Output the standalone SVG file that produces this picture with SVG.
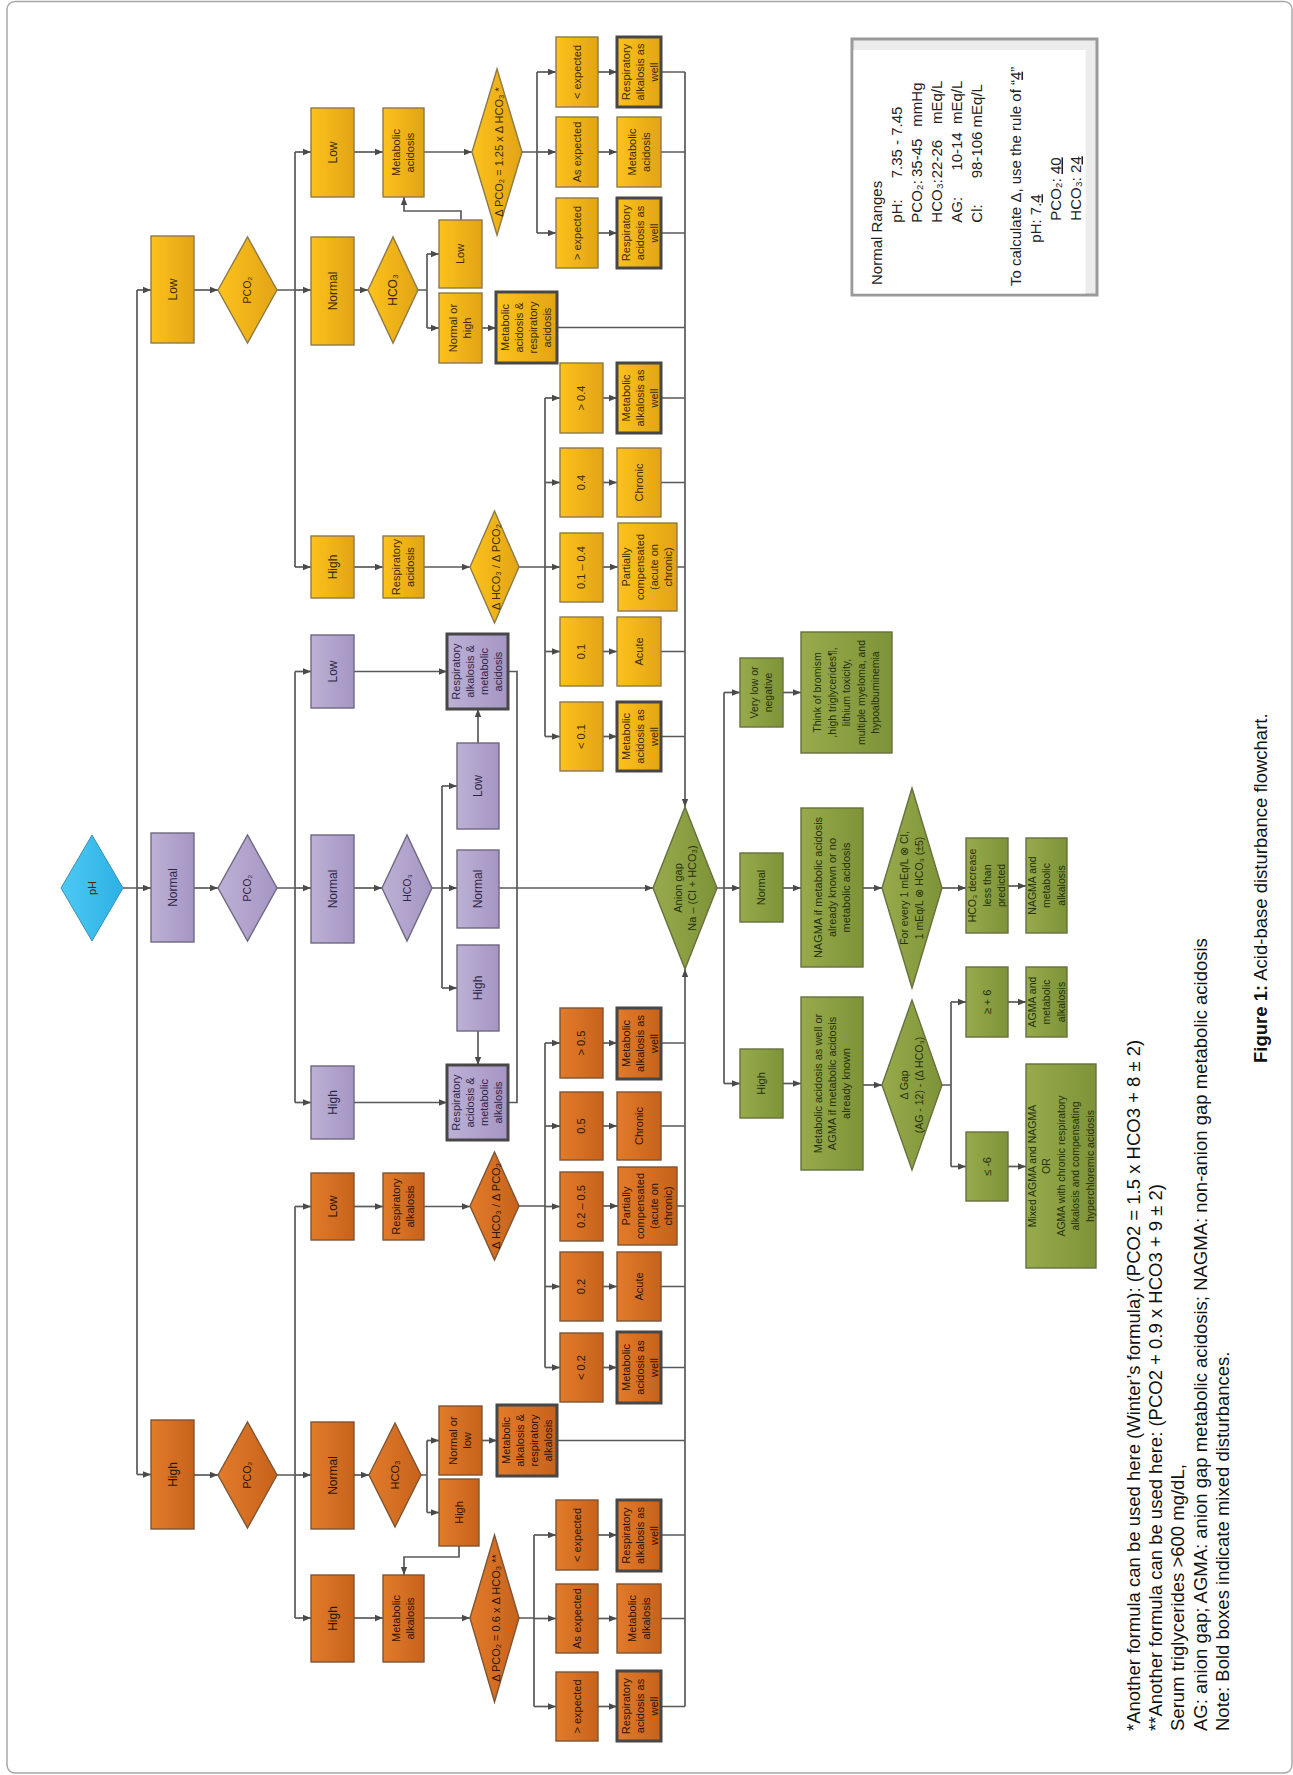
<svg xmlns="http://www.w3.org/2000/svg" width="1293" height="1775" viewBox="0 0 1293 1775">
<defs>
<linearGradient id="gy" x1="0" y1="0" x2="1" y2="0"><stop offset="0" stop-color="#fcc21c"/><stop offset="1" stop-color="#e2a416"/></linearGradient>
<linearGradient id="gp" x1="0" y1="0" x2="1" y2="0"><stop offset="0" stop-color="#bdb1d6"/><stop offset="1" stop-color="#a595c3"/></linearGradient>
<linearGradient id="go" x1="0" y1="0" x2="1" y2="0"><stop offset="0" stop-color="#e27b29"/><stop offset="1" stop-color="#c7621c"/></linearGradient>
<linearGradient id="gg" x1="0" y1="0" x2="1" y2="0"><stop offset="0" stop-color="#97ab4c"/><stop offset="1" stop-color="#7e9338"/></linearGradient>
<linearGradient id="gb" x1="0" y1="0" x2="1" y2="0"><stop offset="0" stop-color="#4ccaf3"/><stop offset="1" stop-color="#2cb1e4"/></linearGradient>
<marker id="arr" viewBox="0 0 10 10" refX="10" refY="5" markerWidth="8" markerHeight="8" markerUnits="userSpaceOnUse" orient="auto"><path d="M0,1 L10,5 L0,9 Z" fill="#4a4a4a"/></marker>
<style>
.y{fill:url(#gy);stroke:#8c7a4a;stroke-width:1.4}
.p{fill:url(#gp);stroke:#6f6880;stroke-width:1.4}
.o{fill:url(#go);stroke:#7d5535;stroke-width:1.4}
.g{fill:url(#gg);stroke:#66703f;stroke-width:1.4}
.b{fill:url(#gb);stroke:#3a8fb5;stroke-width:1}
.bold{stroke:#474747;stroke-width:3}
text{font-family:"Liberation Sans",Arial,sans-serif}
.t{font-size:11px;text-anchor:middle}
.l{font-size:12px}
.s{font-size:10.5px}
.ty{fill:#3a2b00}
.tp{fill:#2f2645}
.to{fill:#2b1505}
.tg{fill:#26300c}
#conn path{fill:none;stroke:#595959;stroke-width:1.7}
#conn .a{marker-end:url(#arr)}
.nr{font-size:15px;fill:#222}
.fn{font-size:18.5px;fill:#111}
</style>
</defs>
<rect x="7" y="1.5" width="1285" height="1771.5" rx="8" fill="#fff" stroke="#a8a8a8" stroke-width="1.5"/>

<g id="conn">
<path d="M123,888 H137 M137,290 V1474.5"/>
<path class="a" d="M137,290 H151"/><path class="a" d="M137,888 H151"/><path class="a" d="M137,1474.5 H151"/>
<path class="a" d="M194,290 H218"/><path class="a" d="M194,888 H218"/><path class="a" d="M194,1475 H218"/>
<path d="M277,290 H295 M295,152 V567"/>
<path d="M277,888 H295 M295,671.5 V1102.5"/>
<path d="M277,1475 H295 M295,1206.5 V1618"/>
<path class="a" d="M295,152 H311"/><path class="a" d="M295,290 H311"/><path class="a" d="M295,567 H311"/>
<path class="a" d="M295,671.5 H311"/><path class="a" d="M295,888 H311"/><path class="a" d="M295,1102.5 H311"/>
<path class="a" d="M295,1206.5 H311"/><path class="a" d="M295,1475 H311"/><path class="a" d="M295,1618 H311"/>
<path class="a" d="M354,152 H383"/><path class="a" d="M354,290 H368"/><path class="a" d="M354,567 H383"/>
<path class="a" d="M354,671.5 H447"/><path class="a" d="M354,888 H382"/><path class="a" d="M354,1102.5 H447"/>
<path class="a" d="M354,1206.5 H383"/><path class="a" d="M354,1475 H369"/><path class="a" d="M354,1618 H383"/>
<path d="M418,290 H427 M427,254 V328"/>
<path class="a" d="M427,254 H439"/><path class="a" d="M427,328 H439"/>
<path class="a" d="M461,220 V211 H404 V197"/>
<path class="a" d="M482,328 H496"/>
<path d="M557,327.5 H685"/>
<path class="a" d="M424,152 H472"/>
<path d="M522,152 H537 M537,72 V233"/>
<path class="a" d="M537,72 H556"/><path class="a" d="M537,152 H556"/><path class="a" d="M537,233 H556"/>
<path class="a" d="M598,72 H617"/><path class="a" d="M598,152 H617"/><path class="a" d="M598,233 H617"/>
<path d="M661,72 H685 M661,152 H685 M661,233 H685"/>
<path class="a" d="M685,72 V807"/>
<path class="a" d="M424,567 H470"/>
<path d="M519,567 H545 M545,398 V736.5"/>
<path class="a" d="M545,398 H560"/><path class="a" d="M545,482.5 H560"/><path class="a" d="M545,567 H560"/><path class="a" d="M545,651.5 H560"/><path class="a" d="M545,736.5 H560"/>
<path class="a" d="M603,398 H617"/><path class="a" d="M603,482.5 H617"/><path class="a" d="M603,567 H618"/><path class="a" d="M603,651.5 H617"/><path class="a" d="M603,736.5 H617"/>
<path d="M661,398 H685 M661,482.5 H685 M677,567 H685 M661,651.5 H685 M661,736.5 H685"/>
<path d="M432,888 H442 M442,786 V988"/>
<path class="a" d="M442,786 H457"/><path class="a" d="M442,888 H457"/><path class="a" d="M442,988 H457"/>
<path class="a" d="M478,743 V709"/>
<path class="a" d="M478,1031 V1065"/>
<path class="a" d="M499,888 H653"/>
<path d="M508,671.5 H517 V1102.5 H508"/>
<path d="M717,888 H724 M724,692.5 V1083.5"/>
<path class="a" d="M724,692.5 H740"/><path class="a" d="M724,888 H740"/><path class="a" d="M724,1083.5 H740"/>
<path class="a" d="M783,692.5 H801"/><path class="a" d="M783,888 H801"/><path class="a" d="M783,1083.5 H801"/>
<path class="a" d="M863,888 H882"/>
<path class="a" d="M942,888 H966"/>
<path class="a" d="M1008,886 H1026"/>
<path class="a" d="M863,1085 H882"/>
<path d="M942,1085 H951 M951,1002 V1166.5"/>
<path class="a" d="M951,1002 H966"/><path class="a" d="M951,1166.5 H966"/>
<path class="a" d="M1008,1002 H1026"/><path class="a" d="M1008,1166.5 H1026"/>
<path d="M421,1475 H427 M427,1440.5 V1512.5"/>
<path class="a" d="M427,1440.5 H439"/><path class="a" d="M427,1512.5 H439"/>
<path class="a" d="M459,1546 V1557 H404 V1575"/>
<path class="a" d="M482,1440.5 H497"/>
<path d="M557,1440.5 H685"/>
<path class="a" d="M424,1618 H470"/>
<path d="M519,1618 H534 M534,1535 V1706.5"/>
<path class="a" d="M534,1535 H556"/><path class="a" d="M534,1618.5 H556"/><path class="a" d="M534,1706.5 H556"/>
<path class="a" d="M598,1535 H617"/><path class="a" d="M598,1618.5 H617"/><path class="a" d="M598,1706.5 H617"/>
<path d="M661,1535 H685 M661,1618.5 H685 M661,1706.5 H685"/>
<path class="a" d="M685,1706.5 V969"/>
<path class="a" d="M424,1206.5 H470"/>
<path d="M519,1206 H545 M545,1043 V1367.5"/>
<path class="a" d="M545,1043 H560"/><path class="a" d="M545,1126 H560"/><path class="a" d="M545,1206.5 H560"/><path class="a" d="M545,1286.5 H560"/><path class="a" d="M545,1367.5 H560"/>
<path class="a" d="M603,1043 H617"/><path class="a" d="M603,1126 H617"/><path class="a" d="M603,1206 H618"/><path class="a" d="M603,1286.5 H617"/><path class="a" d="M603,1367.5 H617"/>
<path d="M661,1043 H685 M661,1126 H685 M677,1206 H685 M661,1286.5 H685 M661,1367.5 H685"/>
</g>

<g id="ph"><path class="b" d="M61,888 L92,835 L123,888 L92,941 Z"/><text class="t ty" transform="translate(92,888) rotate(-90)"><tspan x="0" y="3.9">pH</tspan></text></g>

<!-- yellow (low pH) -->
<g id="y-low"><rect class="y" x="151" y="236" width="43" height="107"/><text class="t l ty" transform="translate(172.5,289.5) rotate(-90)"><tspan x="0" y="4.2">Low</tspan></text></g>
<g id="y-pco2"><path class="y" d="M218,290 L247.5,237 L277,290 L247.5,343 Z"/><text class="t s ty" transform="translate(247.5,290) rotate(-90)"><tspan x="0" y="3.7">PCO₂</tspan></text></g>
<g id="y-low2"><rect class="y" x="311" y="108" width="43" height="89"/><text class="t l ty" transform="translate(332.5,152.5) rotate(-90)"><tspan x="0" y="4.2">Low</tspan></text></g>
<g id="y-normal2"><rect class="y" x="311" y="237" width="43" height="108"/><text class="t l ty" transform="translate(332.5,291) rotate(-90)"><tspan x="0" y="4.2">Normal</tspan></text></g>
<g id="y-high2"><rect class="y" x="311" y="536" width="43" height="62"/><text class="t l ty" transform="translate(332.5,567) rotate(-90)"><tspan x="0" y="4.2">High</tspan></text></g>
<g id="y-metac"><rect class="y" x="383" y="108" width="41" height="89"/><text class="t ty" transform="translate(403.5,152.5) rotate(-90)"><tspan x="0" y="-3.1">Metabolic</tspan><tspan x="0" y="10.9">acidosis</tspan></text></g>
<g id="y-hco3"><path class="y" d="M368,290 L393,237 L418,290 L393,343 Z"/><text class="t l ty" transform="translate(393,290) rotate(-90)"><tspan x="0" y="4.2">HCO₃</tspan></text></g>
<g id="y-respac"><rect class="y" x="383" y="536" width="41" height="62"/><text class="t ty" transform="translate(403.5,567) rotate(-90)"><tspan x="0" y="-3.1">Respiratory</tspan><tspan x="0" y="10.9">acidosis</tspan></text></g>
<g id="y-hco3-low"><rect class="y" x="439" y="220" width="43" height="68"/><text class="t ty" transform="translate(460.5,254) rotate(-90)"><tspan x="0" y="3.9">Low</tspan></text></g>
<g id="y-hco3-nh"><rect class="y" x="439" y="293" width="43" height="70"/><text class="t ty" transform="translate(460.5,328) rotate(-90)"><tspan x="0" y="-3.1">Normal or</tspan><tspan x="0" y="10.9">high</tspan></text></g>
<g id="y-mix"><rect class="y bold" x="496" y="292" width="61" height="71"/><text class="t ty" transform="translate(526.5,327.5) rotate(-90)"><tspan x="0" y="-17.1">Metabolic</tspan><tspan x="0" y="-3.1">acidosis &amp;</tspan><tspan x="0" y="10.9">respiratory</tspan><tspan x="0" y="24.9">acidosis</tspan></text></g>
<g id="y-d1"><path class="y" d="M472,152 L497,69 L522,152 L497,235 Z"/><text class="t ty" transform="translate(499,152) rotate(-90)"><tspan x="0" y="3.9">Δ PCO₂ = 1.25 x Δ HCO₃ *</tspan></text></g>
<g id="y-lt"><rect class="y" x="556" y="37" width="42" height="70"/><text class="t ty" transform="translate(577,72) rotate(-90)"><tspan x="0" y="3.9">&lt; expected</tspan></text></g>
<g id="y-as"><rect class="y" x="556" y="117" width="42" height="70"/><text class="t ty" transform="translate(577,152) rotate(-90)"><tspan x="0" y="3.9">As expected</tspan></text></g>
<g id="y-gt"><rect class="y" x="556" y="198" width="42" height="70"/><text class="t ty" transform="translate(577,233) rotate(-90)"><tspan x="0" y="3.9">&gt; expected</tspan></text></g>
<g id="y-r1"><rect class="y bold" x="617" y="37" width="44" height="70"/><text class="t ty" transform="translate(639,72) rotate(-90)"><tspan x="0" y="-9.1">Respiratory</tspan><tspan x="0" y="4.9">alkalosis as</tspan><tspan x="0" y="18.9">well</tspan></text></g>
<g id="y-r2"><rect class="y" x="617" y="117" width="44" height="70"/><text class="t ty" transform="translate(639,152) rotate(-90)"><tspan x="0" y="-3.1">Metabolic</tspan><tspan x="0" y="10.9">acidosis</tspan></text></g>
<g id="y-r3"><rect class="y bold" x="617" y="198" width="44" height="70"/><text class="t ty" transform="translate(639,233) rotate(-90)"><tspan x="0" y="-9.1">Respiratory</tspan><tspan x="0" y="4.9">acidosis as</tspan><tspan x="0" y="18.9">well</tspan></text></g>
<g id="y-d2"><path class="y" d="M470,567 L494.5,511 L519,567 L494.5,623 Z"/><text class="t ty" transform="translate(496,567) rotate(-90)"><tspan x="0" y="3.9">Δ HCO₃ / Δ PCO₂</tspan></text></g>
<g id="y-c1"><rect class="y" x="560" y="363" width="43" height="70"/><text class="t ty" transform="translate(581.5,398) rotate(-90)"><tspan x="0" y="3.9">&gt; 0.4</tspan></text></g>
<g id="y-c2"><rect class="y" x="560" y="448" width="43" height="69"/><text class="t ty" transform="translate(581.5,482.5) rotate(-90)"><tspan x="0" y="3.9">0.4</tspan></text></g>
<g id="y-c3"><rect class="y" x="560" y="533" width="43" height="69"/><text class="t ty" transform="translate(581.5,567.5) rotate(-90)"><tspan x="0" y="3.9">0.1 – 0.4</tspan></text></g>
<g id="y-c4"><rect class="y" x="560" y="617" width="43" height="69"/><text class="t ty" transform="translate(581.5,651.5) rotate(-90)"><tspan x="0" y="3.9">0.1</tspan></text></g>
<g id="y-c5"><rect class="y" x="560" y="702" width="43" height="69"/><text class="t ty" transform="translate(581.5,736.5) rotate(-90)"><tspan x="0" y="3.9">&lt; 0.1</tspan></text></g>
<g id="y-s1"><rect class="y bold" x="617" y="363" width="44" height="70"/><text class="t ty" transform="translate(639,398) rotate(-90)"><tspan x="0" y="-9.1">Metabolic</tspan><tspan x="0" y="4.9">alkalosis as</tspan><tspan x="0" y="18.9">well</tspan></text></g>
<g id="y-s2"><rect class="y" x="617" y="448" width="44" height="69"/><text class="t ty" transform="translate(639,482.5) rotate(-90)"><tspan x="0" y="3.9">Chronic</tspan></text></g>
<g id="y-s3"><rect class="y" x="618" y="523" width="59" height="88"/><text class="t ty" transform="translate(647.5,567) rotate(-90)"><tspan x="0" y="-17.1">Partially</tspan><tspan x="0" y="-3.1">compensated</tspan><tspan x="0" y="10.9">(acute on</tspan><tspan x="0" y="24.9">chronic)</tspan></text></g>
<g id="y-s4"><rect class="y" x="617" y="617" width="44" height="69"/><text class="t ty" transform="translate(639,651.5) rotate(-90)"><tspan x="0" y="3.9">Acute</tspan></text></g>
<g id="y-s5"><rect class="y bold" x="617" y="702" width="44" height="69"/><text class="t ty" transform="translate(639,736.5) rotate(-90)"><tspan x="0" y="-9.1">Metabolic</tspan><tspan x="0" y="4.9">acidosis as</tspan><tspan x="0" y="18.9">well</tspan></text></g>

<!-- purple (normal pH) -->
<g id="p-normal"><rect class="p" x="151" y="833" width="43" height="109"/><text class="t l tp" transform="translate(172.5,887.5) rotate(-90)"><tspan x="0" y="4.2">Normal</tspan></text></g>
<g id="p-pco2"><path class="p" d="M218,888 L247.5,835 L277,888 L247.5,941 Z"/><text class="t s tp" transform="translate(247.5,888) rotate(-90)"><tspan x="0" y="3.7">PCO₂</tspan></text></g>
<g id="p-low2"><rect class="p" x="311" y="635" width="43" height="73"/><text class="t l tp" transform="translate(332.5,671.5) rotate(-90)"><tspan x="0" y="4.2">Low</tspan></text></g>
<g id="p-normal2"><rect class="p" x="311" y="835" width="43" height="108"/><text class="t l tp" transform="translate(332.5,889) rotate(-90)"><tspan x="0" y="4.2">Normal</tspan></text></g>
<g id="p-high2"><rect class="p" x="311" y="1066" width="43" height="73"/><text class="t l tp" transform="translate(332.5,1102.5) rotate(-90)"><tspan x="0" y="4.2">High</tspan></text></g>
<g id="p-hco3"><path class="p" d="M382,888 L407,835 L432,888 L407,941 Z"/><text class="t s tp" transform="translate(407,888) rotate(-90)"><tspan x="0" y="3.7">HCO₃</tspan></text></g>
<g id="p-low3"><rect class="p" x="457" y="743" width="42" height="86"/><text class="t l tp" transform="translate(478,786) rotate(-90)"><tspan x="0" y="4.2">Low</tspan></text></g>
<g id="p-normal3"><rect class="p" x="457" y="850" width="42" height="78"/><text class="t l tp" transform="translate(478,889) rotate(-90)"><tspan x="0" y="4.2">Normal</tspan></text></g>
<g id="p-high3"><rect class="p" x="457" y="945" width="42" height="86"/><text class="t l tp" transform="translate(478,988) rotate(-90)"><tspan x="0" y="4.2">High</tspan></text></g>
<g id="p-mix1"><rect class="p bold" x="447" y="634" width="61" height="75"/><text class="t tp" transform="translate(477.5,671.5) rotate(-90)"><tspan x="0" y="-17.1">Respiratory</tspan><tspan x="0" y="-3.1">alkalosis &amp;</tspan><tspan x="0" y="10.9">metabolic</tspan><tspan x="0" y="24.9">acidosis</tspan></text></g>
<g id="p-mix2"><rect class="p bold" x="447" y="1065" width="61" height="75"/><text class="t tp" transform="translate(477.5,1102.5) rotate(-90)"><tspan x="0" y="-17.1">Respiratory</tspan><tspan x="0" y="-3.1">acidosis &amp;</tspan><tspan x="0" y="10.9">metabolic</tspan><tspan x="0" y="24.9">alkalosis</tspan></text></g>

<!-- green (anion gap) -->
<g id="g-ag"><path class="g" d="M653,888 L685,807 L717,888 L685,969 Z"/><text class="t tg" transform="translate(685,888) rotate(-90)"><tspan x="0" y="-3.1">Anion gap</tspan><tspan x="0" y="10.9">Na – (Cl + HCO₃)</tspan></text></g>
<g id="g-vlow"><rect class="g" x="740" y="658" width="43" height="69"/><text class="t s tg" transform="translate(761.5,692.5) rotate(-90)"><tspan x="0" y="-3.55">Very low or</tspan><tspan x="0" y="10.95">negative</tspan></text></g>
<g id="g-normal"><rect class="g" x="740" y="853" width="43" height="69"/><text class="t tg" transform="translate(761.5,887.5) rotate(-90)"><tspan x="0" y="3.9">Normal</tspan></text></g>
<g id="g-high"><rect class="g" x="740" y="1049" width="43" height="69"/><text class="t tg" transform="translate(761.5,1083.5) rotate(-90)"><tspan x="0" y="3.9">High</tspan></text></g>
<g id="g-think"><rect class="g" x="801" y="632" width="91" height="121"/><text class="t s tg" transform="translate(846.5,692.5) rotate(-90)"><tspan x="0" y="-25.3">Think of bromism</tspan><tspan x="0" y="-10.8">,high triglycerides¶,</tspan><tspan x="0" y="3.7">lithium toxicity,</tspan><tspan x="0" y="18.2">multiple myeloma, and</tspan><tspan x="0" y="32.7">hypoalbuminemia</tspan></text></g>
<g id="g-nagma"><rect class="g" x="801" y="808" width="62" height="159"/><text class="t tg" transform="translate(832,887.5) rotate(-90)"><tspan x="0" y="-10.1">NAGMA if metabolic acidosis</tspan><tspan x="0" y="3.9">already known or no</tspan><tspan x="0" y="17.9">metabolic acidosis</tspan></text></g>
<g id="g-agma"><rect class="g" x="801" y="997" width="62" height="173"/><text class="t tg" transform="translate(832,1083.5) rotate(-90)"><tspan x="0" y="-10.1">Metabolic acidosis as well or</tspan><tspan x="0" y="3.9">AGMA if metabolic acidosis</tspan><tspan x="0" y="17.9">already known</tspan></text></g>
<g id="g-every"><path class="g" d="M882,888 L912,788 L942,888 L912,988 Z"/><text class="t s tg" transform="translate(912,888) rotate(-90)"><tspan x="0" y="-3.55">For every 1 mEq/L ⊗ Cl,</tspan><tspan x="0" y="10.95">1 mEq/L ⊗ HCO₃ (±5)</tspan></text></g>
<g id="g-dec"><rect class="g" x="966" y="838" width="42" height="95"/><text class="t s tg" transform="translate(987,885.5) rotate(-90)"><tspan x="0" y="-10.8">HCO₃ decrease</tspan><tspan x="0" y="3.7">less than</tspan><tspan x="0" y="18.2">predicted</tspan></text></g>
<g id="g-nagma2"><rect class="g" x="1026" y="838" width="41" height="95"/><text class="t s tg" transform="translate(1046.5,885.5) rotate(-90)"><tspan x="0" y="-10.8">NAGMA and</tspan><tspan x="0" y="3.7">metabolic</tspan><tspan x="0" y="18.2">alkalosis</tspan></text></g>
<g id="g-gap"><path class="g" d="M882,1085 L912,1000 L942,1085 L912,1170 Z"/><text class="t s tg" transform="translate(912,1085) rotate(-90)"><tspan x="0" y="-3.55">Δ Gap</tspan><tspan x="0" y="10.95">(AG - 12) - (Δ HCO₃)</tspan></text></g>
<g id="g-ge6"><rect class="g" x="966" y="967" width="42" height="70"/><text class="t tg" transform="translate(987,1002) rotate(-90)"><tspan x="0" y="3.9">≥ + 6</tspan></text></g>
<g id="g-le6"><rect class="g" x="966" y="1132" width="42" height="69"/><text class="t tg" transform="translate(987,1166.5) rotate(-90)"><tspan x="0" y="3.9">≤ -6</tspan></text></g>
<g id="g-agma2"><rect class="g" x="1026" y="967" width="41" height="70"/><text class="t s tg" transform="translate(1046.5,1002) rotate(-90)"><tspan x="0" y="-10.8">AGMA and</tspan><tspan x="0" y="3.7">metabolic</tspan><tspan x="0" y="18.2">alkalosis</tspan></text></g>
<g id="g-mixed"><rect class="g" x="1026" y="1064" width="70" height="204"/><text class="t s tg" transform="translate(1061,1166) rotate(-90)"><tspan x="0" y="-25.3">Mixed AGMA and NAGMA</tspan><tspan x="0" y="-10.8">OR</tspan><tspan x="0" y="3.7">AGMA with chronic respiratory</tspan><tspan x="0" y="18.2">alkalosis and compensating</tspan><tspan x="0" y="32.7">hyperchloremic acidosis</tspan></text></g>

<!-- orange (high pH) -->
<g id="o-high"><rect class="o" x="151" y="1420" width="43" height="109"/><text class="t l to" transform="translate(172.5,1474.5) rotate(-90)"><tspan x="0" y="4.2">High</tspan></text></g>
<g id="o-pco2"><path class="o" d="M218,1475 L247.5,1422 L277,1475 L247.5,1528 Z"/><text class="t s to" transform="translate(247.5,1475) rotate(-90)"><tspan x="0" y="3.7">PCO₂</tspan></text></g>
<g id="o-low2"><rect class="o" x="311" y="1173" width="43" height="67"/><text class="t l to" transform="translate(332.5,1206.5) rotate(-90)"><tspan x="0" y="4.2">Low</tspan></text></g>
<g id="o-normal2"><rect class="o" x="311" y="1422" width="43" height="107"/><text class="t l to" transform="translate(332.5,1475.5) rotate(-90)"><tspan x="0" y="4.2">Normal</tspan></text></g>
<g id="o-high2"><rect class="o" x="311" y="1575" width="43" height="87"/><text class="t l to" transform="translate(332.5,1618.5) rotate(-90)"><tspan x="0" y="4.2">High</tspan></text></g>
<g id="o-respalk"><rect class="o" x="383" y="1173" width="41" height="67"/><text class="t to" transform="translate(403.5,1206.5) rotate(-90)"><tspan x="0" y="-3.1">Respiratory</tspan><tspan x="0" y="10.9">alkalosis</tspan></text></g>
<g id="o-hco3"><path class="o" d="M369,1475 L395,1423 L421,1475 L395,1527 Z"/><text class="t to" transform="translate(395,1475) rotate(-90)"><tspan x="0" y="3.9">HCO₃</tspan></text></g>
<g id="o-metalk"><rect class="o" x="383" y="1575" width="41" height="87"/><text class="t to" transform="translate(403.5,1618.5) rotate(-90)"><tspan x="0" y="-3.1">Metabolic</tspan><tspan x="0" y="10.9">alkalosis</tspan></text></g>
<g id="o-hco3-nl"><rect class="o" x="439" y="1406" width="43" height="69"/><text class="t to" transform="translate(460.5,1440.5) rotate(-90)"><tspan x="0" y="-3.1">Normal or</tspan><tspan x="0" y="10.9">low</tspan></text></g>
<g id="o-hco3-high"><rect class="o" x="439" y="1479" width="40" height="67"/><text class="t to" transform="translate(459,1512.5) rotate(-90)"><tspan x="0" y="3.9">High</tspan></text></g>
<g id="o-mix"><rect class="o bold" x="497" y="1405" width="60" height="71"/><text class="t to" transform="translate(527,1440.5) rotate(-90)"><tspan x="0" y="-17.1">Metabolic</tspan><tspan x="0" y="-3.1">alkalosis &amp;</tspan><tspan x="0" y="10.9">respiratory</tspan><tspan x="0" y="24.9">alkalosis</tspan></text></g>
<g id="o-d1"><path class="o" d="M470,1618 L494.5,1535 L519,1618 L494.5,1702 Z"/><text class="t to" transform="translate(496,1618) rotate(-90)"><tspan x="0" y="3.9">Δ PCO₂ = 0.6 x Δ HCO₃ **</tspan></text></g>
<g id="o-lt"><rect class="o" x="556" y="1500" width="42" height="70"/><text class="t to" transform="translate(577,1535) rotate(-90)"><tspan x="0" y="3.9">&lt; expected</tspan></text></g>
<g id="o-as"><rect class="o" x="556" y="1584" width="42" height="69"/><text class="t to" transform="translate(577,1618.5) rotate(-90)"><tspan x="0" y="3.9">As expected</tspan></text></g>
<g id="o-gt"><rect class="o" x="556" y="1672" width="42" height="69"/><text class="t to" transform="translate(577,1706.5) rotate(-90)"><tspan x="0" y="3.9">&gt; expected</tspan></text></g>
<g id="o-r1"><rect class="o bold" x="617" y="1500" width="44" height="71"/><text class="t to" transform="translate(639,1535.5) rotate(-90)"><tspan x="0" y="-9.1">Respiratory</tspan><tspan x="0" y="4.9">alkalosis as</tspan><tspan x="0" y="18.9">well</tspan></text></g>
<g id="o-r2"><rect class="o" x="617" y="1584" width="44" height="69"/><text class="t to" transform="translate(639,1618.5) rotate(-90)"><tspan x="0" y="-3.1">Metabolic</tspan><tspan x="0" y="10.9">alkalosis</tspan></text></g>
<g id="o-r3"><rect class="o bold" x="617" y="1671" width="44" height="70"/><text class="t to" transform="translate(639,1706) rotate(-90)"><tspan x="0" y="-9.1">Respiratory</tspan><tspan x="0" y="4.9">acidosis as</tspan><tspan x="0" y="18.9">well</tspan></text></g>
<g id="o-d2"><path class="o" d="M470,1206 L494.5,1152 L519,1206 L494.5,1260 Z"/><text class="t to" transform="translate(496,1206) rotate(-90)"><tspan x="0" y="3.9">Δ HCO₃ / Δ PCO₂</tspan></text></g>
<g id="o-c1"><rect class="o" x="560" y="1008" width="43" height="70"/><text class="t to" transform="translate(581.5,1043) rotate(-90)"><tspan x="0" y="3.9">&gt; 0.5</tspan></text></g>
<g id="o-c2"><rect class="o" x="560" y="1092" width="43" height="68"/><text class="t to" transform="translate(581.5,1126) rotate(-90)"><tspan x="0" y="3.9">0.5</tspan></text></g>
<g id="o-c3"><rect class="o" x="560" y="1172" width="43" height="69"/><text class="t to" transform="translate(581.5,1206.5) rotate(-90)"><tspan x="0" y="3.9">0.2 – 0.5</tspan></text></g>
<g id="o-c4"><rect class="o" x="560" y="1252" width="43" height="69"/><text class="t to" transform="translate(581.5,1286.5) rotate(-90)"><tspan x="0" y="3.9">0.2</tspan></text></g>
<g id="o-c5"><rect class="o" x="560" y="1333" width="43" height="69"/><text class="t to" transform="translate(581.5,1367.5) rotate(-90)"><tspan x="0" y="3.9">&lt; 0.2</tspan></text></g>
<g id="o-s1"><rect class="o bold" x="617" y="1008" width="44" height="71"/><text class="t to" transform="translate(639,1043.5) rotate(-90)"><tspan x="0" y="-9.1">Metabolic</tspan><tspan x="0" y="4.9">alkalosis as</tspan><tspan x="0" y="18.9">well</tspan></text></g>
<g id="o-s2"><rect class="o" x="617" y="1092" width="44" height="68"/><text class="t to" transform="translate(639,1126) rotate(-90)"><tspan x="0" y="3.9">Chronic</tspan></text></g>
<g id="o-s3"><rect class="o" x="618" y="1167" width="59" height="78"/><text class="t to" transform="translate(647.5,1206) rotate(-90)"><tspan x="0" y="-17.1">Partially</tspan><tspan x="0" y="-3.1">compensated</tspan><tspan x="0" y="10.9">(acute on</tspan><tspan x="0" y="24.9">chronic)</tspan></text></g>
<g id="o-s4"><rect class="o" x="617" y="1252" width="44" height="69"/><text class="t to" transform="translate(639,1286.5) rotate(-90)"><tspan x="0" y="3.9">Acute</tspan></text></g>
<g id="o-s5"><rect class="o bold" x="617" y="1332" width="44" height="71"/><text class="t to" transform="translate(639,1367.5) rotate(-90)"><tspan x="0" y="-9.1">Metabolic</tspan><tspan x="0" y="4.9">acidosis as</tspan><tspan x="0" y="18.9">well</tspan></text></g>

<g id="normal-ranges">
<rect x="852" y="39" width="245" height="256" fill="#ececec" stroke="#9a9a9a" stroke-width="3"/>
<rect x="853.5" y="50" width="232" height="243.5" fill="#fff"/>
<text class="nr" transform="rotate(-90)">
<tspan x="-285" y="882">Normal Ranges</tspan>
<tspan x="-222.7" y="902">pH:</tspan><tspan x="-178.3" y="902">7.35 - 7.45</tspan>
<tspan x="-222.7" y="922">PCO₂:</tspan><tspan x="-177" y="922">35-45</tspan><tspan x="-126.7" y="922">mmHg</tspan>
<tspan x="-222.7" y="942">HCO₃:</tspan><tspan x="-178.3" y="942">22-26</tspan><tspan x="-124" y="942">mEq/L</tspan>
<tspan x="-222.7" y="962">AG:</tspan><tspan x="-170.7" y="962">10-14</tspan><tspan x="-124" y="962">mEq/L</tspan>
<tspan x="-222.7" y="982">Cl:</tspan><tspan x="-178.3" y="982">98-106 mEq/L</tspan>
<tspan x="-286" y="1020.5">To calculate Δ, use the rule of “<tspan style="text-decoration:underline">4</tspan>”</tspan>
<tspan x="-242.7" y="1040.5">pH: 7.<tspan style="text-decoration:underline">4</tspan></tspan>
<tspan x="-220.7" y="1060.5">PCO₂: <tspan style="text-decoration:underline">40</tspan></tspan>
<tspan x="-220.7" y="1080.5">HCO₃: 2<tspan style="text-decoration:underline">4</tspan></tspan>
</text>
</g>

<g id="footnotes">
<text class="fn" transform="rotate(-90)">
<tspan x="-1731" y="1139.5">*Another formula can be used here (Winter’s formula): (PCO2 = 1.5 x HCO3 + 8 ± 2)</tspan>
<tspan x="-1731" y="1161.7">**Another formula can be used here: (PCO2 + 0.9 x HCO3 + 9 ± 2)</tspan>
<tspan x="-1731" y="1184.2">Serum triglycerides &gt;600 mg/dL,</tspan>
<tspan x="-1731" y="1206.5">AG: anion gap; AGMA: anion gap metabolic acidosis; NAGMA: non-anion gap metabolic acidosis</tspan>
<tspan x="-1731" y="1229">Note: Bold boxes indicate mixed disturbances.</tspan>
</text>
<text class="fn" transform="rotate(-90)" x="-1063" y="1267"><tspan font-weight="bold">Figure 1:</tspan> Acid-base disturbance flowchart.</text>
</g>
</svg>
